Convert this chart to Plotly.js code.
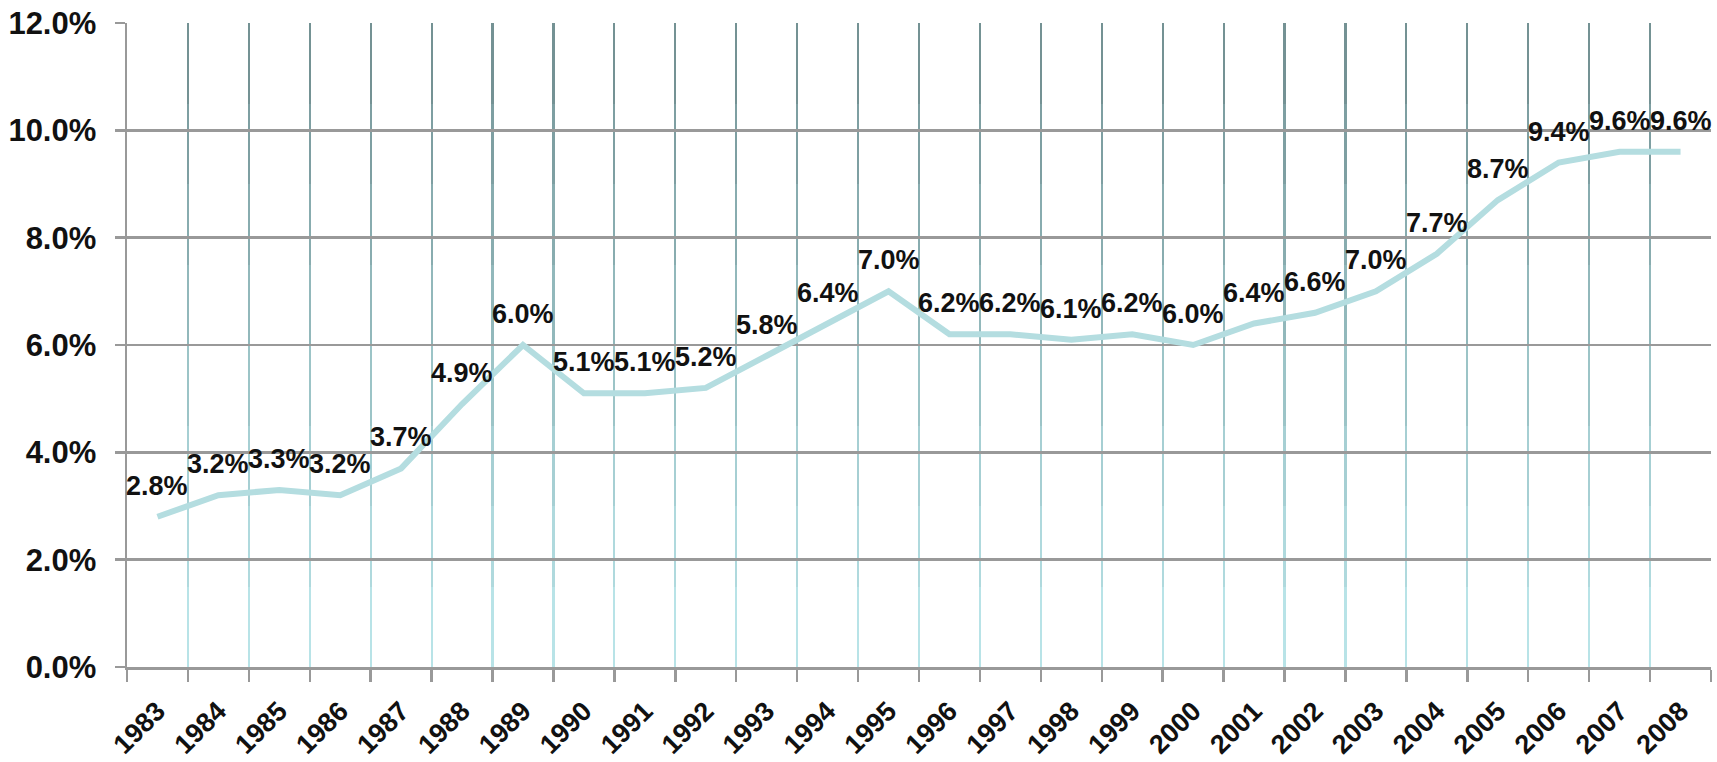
<!DOCTYPE html>
<html>
<head>
<meta charset="utf-8">
<script src="https://cdn.plot.ly/plotly-3.0.1.min.js"></script>
<style>
  html, body { margin: 0; padding: 0; background: #ffffff; }
  #chart { width: 1717px; height: 762px; }
</style>
</head>
<body>
<div id="chart"></div>
<script>
// ---- data ----
const years = ['1983','1984','1985','1986','1987','1988','1989','1990','1991','1992','1993','1994','1995',
               '1996','1997','1998','1999','2000','2001','2002','2003','2004','2005','2006','2007','2008'];
const rates = [2.8, 3.2, 3.3, 3.2, 3.7, 4.9, 6.0, 5.1, 5.1, 5.2, 5.8, 6.4, 7.0,
               6.2, 6.2, 6.1, 6.2, 6.0, 6.4, 6.6, 7.0, 7.7, 8.7, 9.4, 9.6, 9.6];
const yTicks = [0, 2, 4, 6, 8, 10, 12];

// ---- style: vertical gridline gradient, bottom -> top ----
const bandColors = ['#b8e3e7', '#afd9dd', '#a6cfd3', '#9cc4c7', '#92b8bb', '#88acaf', '#7e9fa2', '#749294'];
const nBands = bandColors.length;
const dataAx = nBands + 1;

const font = "'Liberation Sans', Arial, sans-serif";
const traces = [];
const layout = {
  width: 1717, height: 762,
  margin: {l: 127, r: 6, t: 23, b: 95},
  paper_bgcolor: '#ffffff',
  plot_bgcolor: 'rgba(0,0,0,0)',
  showlegend: false,
  font: {family: font, color: '#111111'},
  annotations: []
};

for (let k = 0; k < nBands; k++) {
  const sfx = k === 0 ? '' : String(k + 1);
  traces.push({type: 'scatter', x: [], y: [], xaxis: 'x' + sfx, yaxis: 'y' + sfx, hoverinfo: 'skip'});
  layout['xaxis' + sfx] = {
    type: 'linear', range: [-0.5, years.length - 0.5], tick0: -0.5, dtick: 1,
    showgrid: true, gridcolor: bandColors[k], gridwidth: 2.2,
    showticklabels: false, ticks: '', showline: false, zeroline: false,
    anchor: 'y' + sfx, domain: [0, 1], fixedrange: true
  };
  layout['yaxis' + sfx] = {
    range: [0, 1], domain: [k / nBands, (k + 1) / nBands],
    showgrid: false, showticklabels: false, ticks: '', showline: false, zeroline: false,
    anchor: 'x' + sfx, fixedrange: true
  };
}

traces.push({
  type: 'scatter', mode: 'lines',
  x: years, y: rates,
  xaxis: 'x' + dataAx, yaxis: 'y' + dataAx,
  line: {color: '#b4dde0', width: 6},
  hoverinfo: 'x+y'
});

layout['xaxis' + dataAx] = {
  type: 'category', range: [-0.5, years.length - 0.5],
  tickson: 'boundaries', ticks: 'outside', ticklen: 12, tickwidth: 2.5, tickcolor: '#999999',
  showgrid: false, zeroline: false,
  showline: true, linecolor: '#999999', linewidth: 2.5,
  tickangle: -45, ticklabelstandoff: 15,
  tickfont: {family: font, size: 27, weight: 'bold', color: '#111111'},
  anchor: 'y' + dataAx, domain: [0, 1]
};
layout['yaxis' + dataAx] = {
  range: [0, 12], tickvals: yTicks, ticktext: yTicks.map(v => v.toFixed(1) + '%'),
  showgrid: true, gridcolor: '#999999', gridwidth: 2.5,
  ticks: 'outside', ticklen: 10, tickwidth: 2.5, tickcolor: '#999999',
  showline: true, linecolor: '#999999', linewidth: 2.5,
  zeroline: false, ticklabelstandoff: 12,
  tickfont: {family: font, size: 31, weight: 'bold', color: '#111111'},
  anchor: 'x' + dataAx, domain: [0, 1]
};

for (let i = 0; i < years.length; i++) {
  layout.annotations.push({
    x: i, y: rates[i], xref: 'x' + dataAx, yref: 'y' + dataAx,
    text: rates[i].toFixed(1) + '%', showarrow: false,
    yanchor: 'middle', xanchor: 'center', yshift: 31,
    font: {family: font, size: 27, weight: 'bold', color: '#111111'}
  });
}

Plotly.newPlot('chart', traces, layout, {displayModeBar: false, staticPlot: true});
</script>
</body>
</html>
